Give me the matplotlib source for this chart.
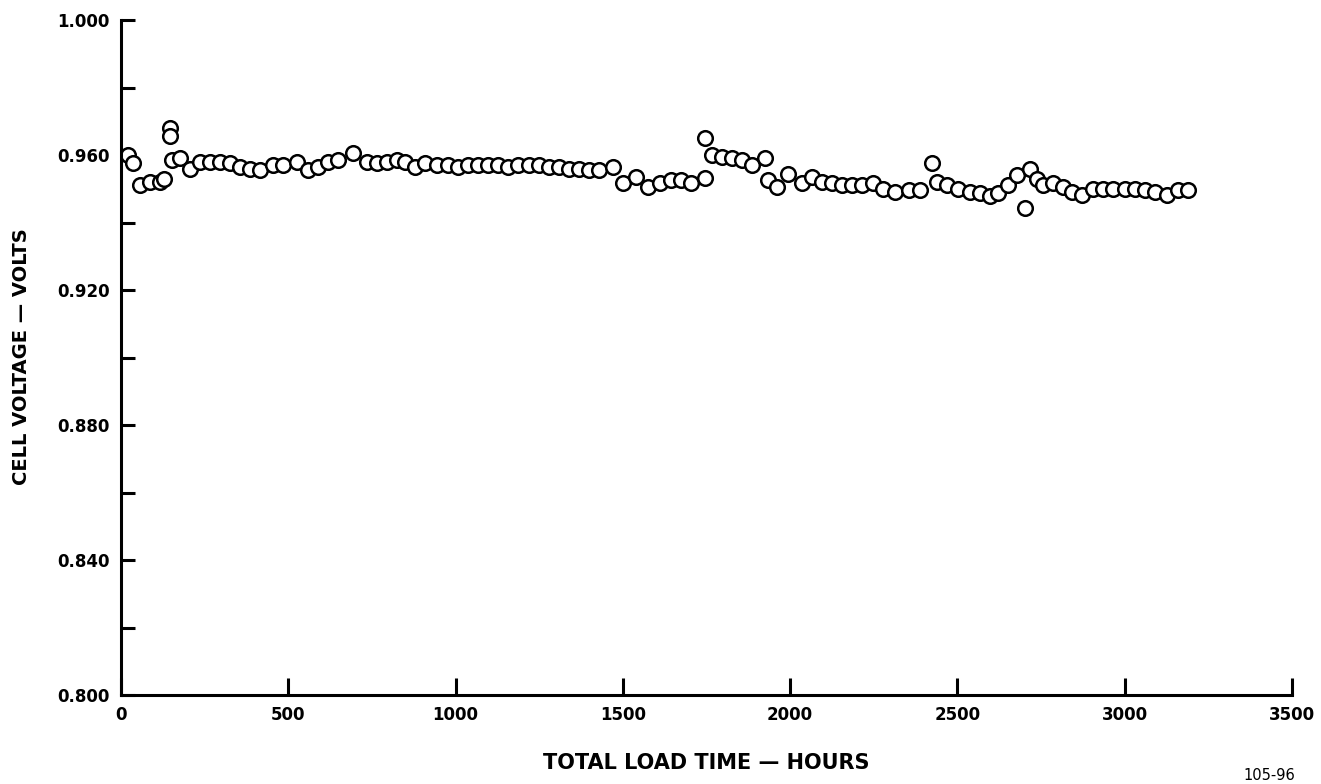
import numpy as np
import matplotlib
matplotlib.use("Agg")
import matplotlib.pyplot as plt
from matplotlib.ticker import MultipleLocator, FormatStrFormatter

# load time (hours) and cell voltage (volts)
hours = [22, 37, 57, 87, 117, 130, 146, 146, 151, 176, 206, 236, 266, 296,
         326, 356, 386, 416, 455, 485, 525, 560, 590, 620, 650, 694, 734,
         764, 794, 824, 849, 879, 909, 943, 978, 1008, 1038, 1068, 1098,
         1128, 1158, 1188, 1218, 1248, 1278, 1308, 1338, 1368, 1398, 1428,
         1471, 1501, 1540, 1575, 1610, 1644, 1674, 1704, 1745, 1745, 1765,
         1795, 1825, 1855, 1885, 1925, 1935, 1960, 1995, 2034, 2064, 2094,
         2124, 2154, 2184, 2214, 2249, 2279, 2314, 2354, 2388, 2423, 2438,
         2468, 2503, 2538, 2568, 2598, 2622, 2652, 2677, 2702, 2717, 2737,
         2757, 2787, 2817, 2842, 2871, 2906, 2936, 2966, 3001, 3031, 3061,
         3091, 3125, 3160, 3190]
volts = [0.960, 0.9575, 0.951, 0.952, 0.952, 0.953, 0.968, 0.9655, 0.9585,
         0.959, 0.956, 0.958, 0.958, 0.958, 0.9575, 0.9565, 0.956, 0.9555,
         0.957, 0.957, 0.958, 0.9555, 0.9565, 0.958, 0.9585, 0.9605, 0.958,
         0.9575, 0.958, 0.9585, 0.958, 0.9565, 0.9575, 0.957, 0.957, 0.9565,
         0.957, 0.957, 0.957, 0.957, 0.9565, 0.957, 0.957, 0.957, 0.9565,
         0.9565, 0.956, 0.956, 0.9555, 0.9555, 0.9565, 0.9516, 0.9536,
         0.9506, 0.9516, 0.9526, 0.9526, 0.9516, 0.9531, 0.9650, 0.960,
         0.9595, 0.959, 0.9585, 0.957, 0.959, 0.9526, 0.9506, 0.9544,
         0.9516, 0.9536, 0.952, 0.9516, 0.951, 0.951, 0.951, 0.9516, 0.950,
         0.9491, 0.9496, 0.9496, 0.9575, 0.952, 0.951, 0.950, 0.9491,
         0.9486, 0.948, 0.9486, 0.951, 0.9541, 0.9442, 0.956, 0.953, 0.951,
         0.9516, 0.9506, 0.9491, 0.9481, 0.950, 0.950, 0.950, 0.950, 0.950,
         0.9496, 0.9491, 0.9481, 0.9496, 0.9496]

x_ticks = [0, 500, 1000, 1500, 2000, 2500, 3000, 3500]
y_ticks = [0.800, 0.840, 0.880, 0.920, 0.960, 1.000]

fig = plt.figure(figsize=(13.21, 7.84), dpi=100)
ax = fig.add_axes([121 / 1321, 1 - 695 / 784, (1292 - 121) / 1321, 675 / 784])

ax.plot(hours, volts, linestyle='none', marker='o', markersize=10.5,
        markerfacecolor='white', markeredgecolor='black', markeredgewidth=1.8)

ax.set_xlim(0, 3500)
ax.set_ylim(0.800, 1.000)
ax.set_xticks(x_ticks)
ax.set_yticks(y_ticks)
ax.yaxis.set_minor_locator(MultipleLocator(0.02))
ax.yaxis.set_major_formatter(FormatStrFormatter('%.3f'))

for s in ['top', 'right']:
    ax.spines[s].set_visible(False)
for s in ['left', 'bottom']:
    ax.spines[s].set_linewidth(2.2)

ax.tick_params(axis='both', which='both', direction='in', width=2.2,
               labelsize=12, pad=8)
ax.tick_params(axis='y', which='both', length=10)
ax.tick_params(axis='x', which='major', length=12)
for lab in ax.get_xticklabels() + ax.get_yticklabels():
    lab.set_fontweight('bold')

fig.text(22 / 1321, 1 - 357 / 784, 'CELL VOLTAGE — VOLTS', rotation=90,
         ha='center', va='center', fontsize=14, fontweight='bold',
         family=['Liberation Sans Narrow', 'DejaVu Sans'])
fig.text(706 / 1321, 1 - 763 / 784, 'TOTAL LOAD TIME — HOURS',
         ha='center', va='center', fontsize=15, fontweight='bold',
         family=['Liberation Sans Narrow', 'DejaVu Sans'])
fig.text(1269 / 1321, 1 - 775 / 784, '105-96', ha='center', va='center',
         fontsize=10.5)

fig.savefig('out.png', dpi=100)
